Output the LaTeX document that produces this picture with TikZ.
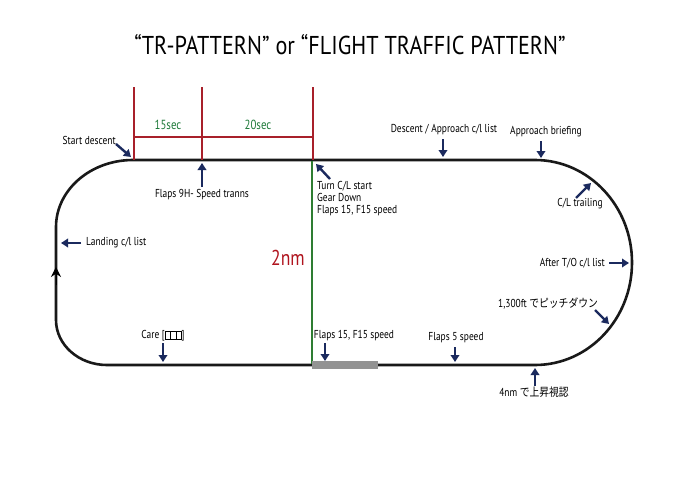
\documentclass[tikz,border=0pt]{standalone}
\usepackage{fontspec}
\setmainfont{PT Sans}[FakeStretch=0.82]
\newfontfamily\titlefont{PT Sans}[FakeStretch=0.86]
\newfontfamily\jpfont{Noto Sans CJK JP}[FakeStretch=0.85]
\usepackage{tikz}
\usetikzlibrary{positioning, arrows.meta}

\definecolor{navy}{HTML}{1B2A5E}
\definecolor{barred}{HTML}{A8202A}
\definecolor{nmred}{HTML}{B0141E}
\definecolor{secgreen}{HTML}{1E7A3A}
\definecolor{clgreen}{HTML}{2E7D32}

% box for a glyph the font does not have
\newcommand{\nobox}{{\setlength{\fboxsep}{0pt}\setlength{\fboxrule}{0.4pt}\fbox{\rule{0pt}{0.68em}\hspace{0.42em}}}}

\begin{document}
\begin{tikzpicture}[x=1pt, y=-1pt, >=Stealth,
  track/.style={line width=2.6pt, black!90, line join=round},
  redln/.style={barred, line width=1.1pt},
  pt/.style={-{Triangle[length=7pt, width=8.5pt]}, line width=2.4pt, navy},
  lbl/.style={font=\fontsize{11.5}{12}\selectfont, inner sep=0pt, text=black},
  sec/.style={font=\fontsize{13.2}{14}\selectfont, secgreen, inner sep=0pt}]
  \useasboundingbox (0,0) rectangle (690,487);
  \fill[white] (0,0) rectangle (690,487);

  % --- TITLE ---
  \node[inner sep=0pt, font=\titlefont\fontsize{25.8}{28}\selectfont] (title) at (350,45)
    {“TR-PATTERN” or “FLIGHT TRAFFIC PATTERN”};

  % --- TRACK ---
  \draw[track] (133,160) -- (535,160)
    arc[start angle=-90, end angle=90, x radius=97, y radius=102.5]
    -- (107,365)
    arc[start angle=90, end angle=180, x radius=51, y radius=45]
    -- (56,227)
    arc[start angle=180, end angle=270, x radius=77, y radius=67] -- cycle;
  \draw[line width=1pt, -{Stealth[length=10pt, width=10pt]}] (56,285) -- (56,267);

  % --- TIMING BARS ---
  \foreach \n/\x in {r1/134, r2/202, r3/313} {
    \coordinate (\n t) at (\x,87);
    \coordinate (\n b) at (\x,160);
    \draw[redln] (\n t) -- (\n b);
  }
  \draw[redln] (134,137) -- (313,137);
  \node[sec] (sec15) at (168,125) {15sec};
  \node[sec] (sec20) at (258,125) {20sec};

  % --- 2nm ---
  \coordinate (gtop) at (312,161);
  \coordinate (gbot) at (312,364);
  \draw[clgreen, line width=1.1pt] (gtop) -- (gbot);
  \node[nmred, inner sep=0pt, font=\fontsize{21.5}{23}\selectfont] (dist) at (288,258) {2nm};
  \fill[gray!85] (312,360.5) rectangle (378,369);

  % --- LABELS ---
  \node[lbl, anchor=east] (startdesc) at (116,140) {Start descent};
  \node[lbl] (flaps9) at (202,195) {Flaps 9H- Speed tranns};
  \node[lbl, anchor=north west, align=left] (turncl) at (317,181)
    {Turn C/L start\\Gear Down\\Flaps 15, F15 speed};
  \node[lbl] (descappr) at (444,130) {Descent / Approach c/l list};
  \node[lbl] (apprbrief) at (546,132) {Approach briefing};
  \node[lbl] (cltrail) at (580,204) {C/L trailing};
  \node[lbl, anchor=east] (afterto) at (605,263) {After T/O c/l list};
  \node[lbl] (pitchdown) at (548,303) {1,300ft {\jpfont でピッチダウン}};
  \node[lbl] (climb) at (534,392) {4nm {\jpfont で上昇視認}};
  \node[lbl] (flaps5) at (456,338) {Flaps 5 speed};
  \node[lbl] (flaps15) at (354,336) {Flaps 15, F15 speed};
  \node[lbl] (care) at (163,336) {Care [\nobox\nobox\nobox]};
  \node[lbl, anchor=west] (landing) at (86,243) {Landing c/l list};

  % --- POINTERS ---
  \foreach \n/\xa/\ya/\xb/\yb in {sd/116/144/131/157, fn/202/187/202/163,
      tc/330/179/316/164, da/443/139/443/157, ab/541/141/541/158,
      ct/576/198/591/183, at/609/263/629/263, pd/595/310/609/324,
      cl/535/386/535/368, f5/455/347/455/362, ff/325/343/325/361,
      ca/163/343/163/362, lc/81/243/61/243} {
    \coordinate (\n-s) at (\xa,\ya);
    \coordinate (\n-e) at (\xb,\yb);
    \draw[pt] (\n-s) -- (\n-e);
  }
\end{tikzpicture}
\end{document}
